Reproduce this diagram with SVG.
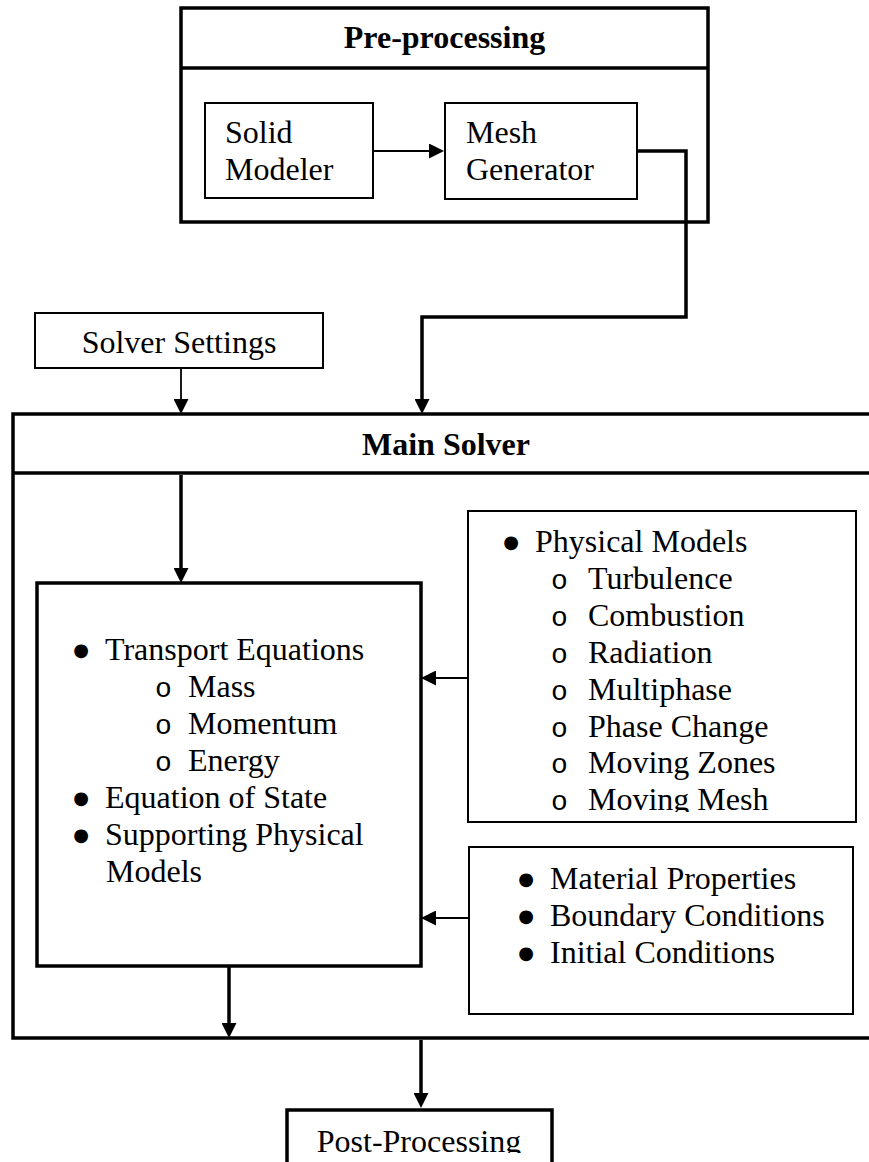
<svg xmlns="http://www.w3.org/2000/svg" width="869" height="1162" viewBox="0 0 869 1162">
<style>
text{font-family:"Liberation Serif","Times New Roman",serif;font-size:32px;fill:#000}
.b{font-weight:bold}
.c{text-anchor:middle}
.bl{font-family:"DejaVu Sans",sans-serif;font-size:18px;text-anchor:middle}
.o{font-family:"Liberation Mono","Courier New",monospace;font-size:28px}
.thick{fill:none;stroke:#000;stroke-width:3.5}
.med{fill:#fff;stroke:#000;stroke-width:2}
.thin{fill:none;stroke:#000;stroke-width:1.8}
.conT{fill:none;stroke:#000;stroke-width:3.5}
</style>
<defs>
<marker id="ah" markerUnits="userSpaceOnUse" markerWidth="16" markerHeight="15" refX="5" refY="7.5" orient="auto">
<path d="M0,0 L15,7.5 L0,15 z" fill="#000"/>
</marker>
<clipPath id="clipPhys"><rect x="468" y="511" width="388" height="301"/></clipPath>
<clipPath id="clipPost"><rect x="287" y="1110" width="265" height="43"/></clipPath>
</defs>
<rect width="869" height="1162" fill="#fff"/>

<g id="preprocessing">
<rect class="thick" x="181" y="8" width="527" height="214"/>
<line class="thick" x1="181" y1="68" x2="708" y2="68"/>
<text class="b c" x="444.5" y="48">Pre-processing</text>
</g>

<g id="solid-modeler">
<rect class="med" x="205" y="103" width="168" height="95"/>
<text x="225" y="143">Solid</text>
<text x="225" y="180">Modeler</text>
</g>

<g id="mesh-generator">
<rect class="med" x="445" y="103" width="192" height="96"/>
<text x="466" y="143">Mesh</text>
<text x="466" y="180">Generator</text>
</g>

<g id="solver-settings">
<rect class="med" x="35" y="313" width="288" height="55"/>
<text class="c" x="179" y="353">Solver Settings</text>
</g>

<g id="main-solver">
<path class="thick" d="M875,414 H13 V1038 H875"/>
<line class="thick" x1="13" y1="473" x2="875" y2="473"/>
<text class="b" x="362" y="455">Main Solver</text>
</g>

<g id="transport">
<rect class="thick" x="37" y="583" width="384" height="383" fill="#fff"/>
<text class="bl" x="81" y="656">●</text><text x="105" y="660">Transport Equations</text>
<text class="o" x="155" y="697">o</text><text x="188" y="697">Mass</text>
<text class="o" x="155" y="734">o</text><text x="188" y="734">Momentum</text>
<text class="o" x="155" y="771">o</text><text x="188" y="771">Energy</text>
<text class="bl" x="81" y="804">●</text><text x="105" y="808">Equation of State</text>
<text class="bl" x="81" y="841">●</text><text x="105" y="845">Supporting Physical</text>
<text x="106" y="882">Models</text>
</g>

<g id="physical-models">
<rect class="med" x="468" y="511" width="388" height="311"/>
<g clip-path="url(#clipPhys)">
<text class="bl" x="511" y="548">●</text><text x="535" y="552">Physical Models</text>
<text class="o" x="551" y="589">o</text><text x="588" y="589">Turbulence</text>
<text class="o" x="551" y="626">o</text><text x="588" y="626">Combustion</text>
<text class="o" x="551" y="663">o</text><text x="588" y="663">Radiation</text>
<text class="o" x="551" y="700">o</text><text x="588" y="700">Multiphase</text>
<text class="o" x="551" y="737">o</text><text x="588" y="737">Phase Change</text>
<text class="o" x="551" y="773">o</text><text x="588" y="773">Moving Zones</text>
<text class="o" x="551" y="810">o</text><text x="588" y="810">Moving Mesh</text>
</g>
</g>

<g id="material">
<rect class="med" x="469" y="847" width="384" height="167"/>
<text class="bl" x="526" y="885">●</text><text x="550" y="889">Material Properties</text>
<text class="bl" x="526" y="922">●</text><text x="550" y="926">Boundary Conditions</text>
<text class="bl" x="526" y="959">●</text><text x="550" y="963">Initial Conditions</text>
</g>

<g id="post-processing">
<path class="thick" d="M287,1170 V1110 H552 V1170"/>
<g clip-path="url(#clipPost)">
<text class="c" x="419" y="1152">Post-Processing</text>
</g>
</g>

<g id="connectors">
<line class="thin" x1="373" y1="151" x2="434" y2="151" marker-end="url(#ah)"/>
<path class="conT" d="M637,151 H686 V317 H422 V404" marker-end="url(#ah)"/>
<line class="thin" x1="181" y1="368" x2="181" y2="404" marker-end="url(#ah)"/>
<line class="conT" x1="181" y1="475" x2="181" y2="573" marker-end="url(#ah)"/>
<line class="thin" x1="468" y1="678" x2="431" y2="678" marker-end="url(#ah)"/>
<line class="thin" x1="469" y1="918" x2="431" y2="918" marker-end="url(#ah)"/>
<line class="conT" x1="229" y1="966" x2="229" y2="1028" marker-end="url(#ah)"/>
<line class="conT" x1="421" y1="1040" x2="421" y2="1098" marker-end="url(#ah)"/>
</g>
</svg>
